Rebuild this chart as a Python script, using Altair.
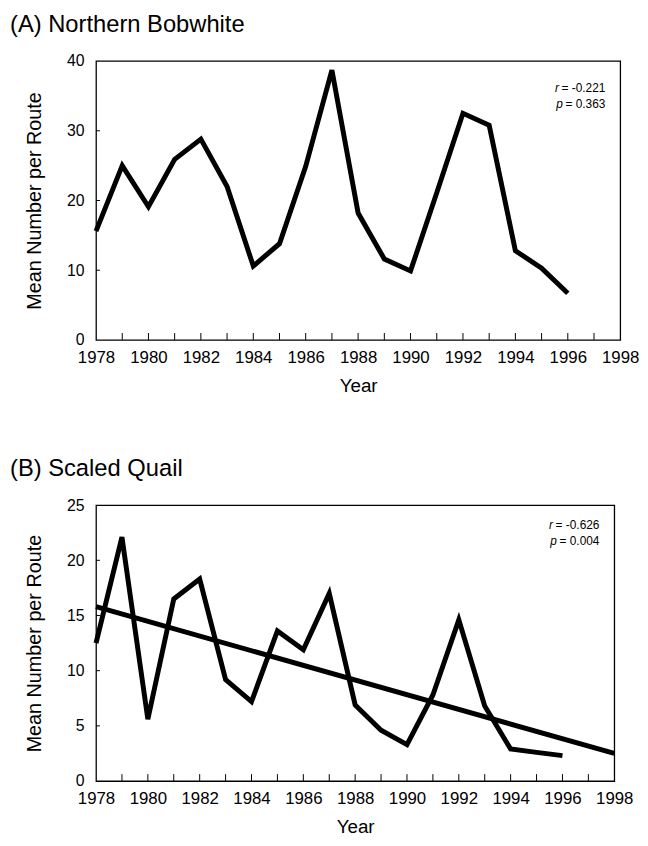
import altair as alt
import pandas as pd

# ---- data ----
years = list(range(1978, 1997))
bobwhite = [15.6, 25.0, 19.1, 25.9, 28.8, 22.0, 10.6, 13.8, 24.9, 38.7,
            18.2, 11.6, 9.9, 21.1, 32.5, 30.8, 12.8, 10.3, 6.7]
scaled_quail = [12.5, 22.1, 5.6, 16.5, 18.3, 9.2, 7.2, 13.6, 11.9, 17.0,
                6.9, 4.6, 3.3, 7.8, 14.6, 6.8, 2.9, 2.6, 2.3]
trend_years = [1978, 1998]
trend_quail = [15.8, 2.5]
x_label_years = list(range(1978, 1999, 2))
minor_tick_years = list(range(1979, 1998))
bob_y_ticks = [0, 10, 20, 30, 40]
quail_y_ticks = [0, 5, 10, 15, 20, 25]
bob_stats = ["= -0.221", "= 0.363"]
quail_stats = ["= -0.626", "= 0.004"]

FONT = "Liberation Sans"


def stat_text(txt, ypos, xr, italic=False, dx=0):
    df = pd.DataFrame({"txt": [txt], "ypos": [ypos]})
    kw = dict(align="right", baseline="middle", fontSize=12, font=FONT, color="black", dx=dx)
    if italic:
        kw["fontStyle"] = "italic"
    return alt.Chart(df).mark_text(**kw).encode(
        x=alt.value(xr), y=alt.Y("ypos:Q", scale=None), text="txt:N")


def panel(values, ymax, yticks, w, h, title, stats, r_y, p_y, trend=None):
    df = pd.DataFrame({"year": years, "value": values})
    xs = alt.Scale(domain=[1978, 1998], nice=False, zero=False)
    ys = alt.Scale(domain=[0, ymax], nice=False)
    x = alt.X("year:Q", scale=xs,
              axis=alt.Axis(values=x_label_years, format="d", title="Year",
                            labelPadding=10, titlePadding=11, ticks=False,
                            domain=False, grid=False, labelFontSize=17,
                            titleFontSize=19, labelFont=FONT, titleFont=FONT,
                            titleFontWeight="normal", labelColor="black",
                            titleColor="black", labelFlush=False))
    y = alt.Y("value:Q", scale=ys,
              axis=alt.Axis(values=yticks, title="Mean Number per Route",
                            labelPadding=12, titlePadding=22, ticks=False,
                            domain=False, grid=False, labelFontSize=16,
                            titleFontSize=20, labelFont=FONT, titleFont=FONT,
                            titleFontWeight="normal", labelColor="black",
                            titleColor="black"))
    line = alt.Chart(df).mark_line(color="black", strokeWidth=5).encode(x=x, y=y)

    tick_df = pd.DataFrame({"year": minor_tick_years})
    xticks = alt.Chart(tick_df).mark_rule(color="black", strokeWidth=1).encode(
        x=alt.X("year:Q", scale=xs), y=alt.value(h), y2=alt.value(h - 7))
    ytick_df = pd.DataFrame({"value": yticks[1:-1]})
    yticks_m = alt.Chart(ytick_df).mark_rule(color="black", strokeWidth=1).encode(
        y=alt.Y("value:Q", scale=ys), x=alt.value(0), x2=alt.value(4))

    xr = w - 15
    layers = [xticks, yticks_m, line]
    if trend is not None:
        tdf = pd.DataFrame({"year": trend_years, "value": trend})
        layers.append(alt.Chart(tdf).mark_line(color="black", strokeWidth=5)
                      .encode(x=alt.X("year:Q", scale=xs), y=alt.Y("value:Q", scale=ys)))
    layers += [
        stat_text(stats[0], r_y, xr),
        stat_text("r", r_y, xr, italic=True, dx=-47),
        stat_text(stats[1], p_y, xr),
        stat_text("p", p_y, xr, italic=True, dx=-43),
    ]
    return alt.layer(*layers).properties(
        width=w, height=h,
        title=alt.TitleParams(title, anchor="start", frame="group", dx=-87,
                              fontSize=24, font=FONT, fontWeight="normal",
                              color="black", offset=16))


a = panel(bobwhite, 40, bob_y_ticks, 530, 282, "(A) Northern Bobwhite",
          bob_stats, 27, 43)
b = panel(scaled_quail, 25, quail_y_ticks, 524, 279, "(B) Scaled Quail",
          quail_stats, 20, 36, trend=trend_quail)

chart = alt.vconcat(a, b, spacing=61).properties(
    padding={"left": 1, "top": 0, "right": 0, "bottom": 0}
).configure(background="white").configure_view(stroke="black", strokeWidth=1.3)

chart.save("out.html", embed_options={"renderer": "svg", "actions": False})
